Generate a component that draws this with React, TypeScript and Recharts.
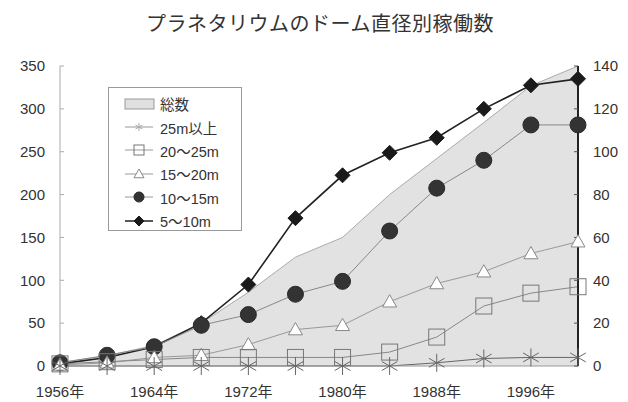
import { ComposedChart, Area, Line, XAxis, YAxis, Legend } from "recharts";

const years = [1956, 1960, 1964, 1968, 1972, 1976, 1980, 1984, 1988, 1992, 1996, 2000];
const xTicks = [1956, 1964, 1972, 1980, 1988, 1996];
const leftTicks = [0, 50, 100, 150, 200, 250, 300, 350];
const rightTicks = [0, 20, 40, 60, 80, 100, 120, 140];

// 総数 (left axis)
const total = [4, 12, 24, 50, 86, 127, 150, 200, 242, 284, 327, 350];
// by dome diameter (right axis)
const over25 = [0, 0, 0, 0, 0, 0, 0, 0, 1.5, 3.5, 4, 4];
const d20to25 = [1, 2, 3, 4, 4, 4, 4, 6.5, 13.5, 28, 34, 37];
const d15to20 = [0.5, 1.5, 4, 5, 10, 17, 19, 30, 38.5, 44, 52.5, 58];
const d10to15 = [1.5, 5, 9, 19, 24, 33.5, 39.5, 63, 83, 96, 112.5, 112.5];
const d5to10 = [1, 4, 9, 20, 38, 69, 89, 99.5, 106.5, 120, 131, 134];

const data = years.map((year, i) => ({
  year,
  total: total[i],
  over25: over25[i],
  d20to25: d20to25[i],
  d15to20: d15to20[i],
  d10to15: d10to15[i],
  d5to10: d5to10[i],
}));

const FONT = "'Liberation Sans', Arial, 'Noto Sans CJK JP', sans-serif";
const tickStyle = { fill: "#333", fontSize: 15, fontFamily: FONT };

const diamond = (cx: number, cy: number, r: number, key?: any) => (
  <path
    key={key}
    d={`M${cx},${cy - r}L${cx + r},${cy}L${cx},${cy + r}L${cx - r},${cy}Z`}
    fill="#1a1a1a"
    stroke="#1a1a1a"
  />
);
const circle = (cx: number, cy: number, r: number, key?: any) => (
  <circle key={key} cx={cx} cy={cy} r={r} fill="#333" stroke="#2a2a2a" />
);
const triangle = (cx: number, cy: number, r: number, key?: any) => (
  <path
    key={key}
    d={`M${cx},${cy - r}L${cx + r},${cy + r * 0.75}L${cx - r},${cy + r * 0.75}Z`}
    fill="#fff"
    stroke="#888"
  />
);
const square = (cx: number, cy: number, r: number, key?: any) => (
  <rect key={key} x={cx - r} y={cy - r} width={r * 2} height={r * 2} fill="none" stroke="#777" />
);
const star = (cx: number, cy: number, r: number, color: string, key?: any) => (
  <g key={key} stroke={color} strokeWidth={1}>
    <line x1={cx} y1={cy - r} x2={cx} y2={cy + r} />
    <line x1={cx - r * 0.87} y1={cy - r * 0.5} x2={cx + r * 0.87} y2={cy + r * 0.5} />
    <line x1={cx - r * 0.87} y1={cy + r * 0.5} x2={cx + r * 0.87} y2={cy - r * 0.5} />
  </g>
);

const dotOf = (fn: (cx: number, cy: number, key: any) => any) => (p: any) => {
  if (p.cx == null || p.cy == null) return <g key={p.key} />;
  return fn(p.cx, p.cy, p.key ?? `${p.dataKey}-${p.index}`);
};

const legendItems = [
  { label: "総数", kind: "area" },
  { label: "25m以上", kind: "star" },
  { label: "20〜25m", kind: "square" },
  { label: "15〜20m", kind: "triangle" },
  { label: "10〜15m", kind: "circle" },
  { label: "5〜10m", kind: "diamond" },
];

const LegendBox = () => (
  <div
    style={{
      width: 134,
      height: 144,
      border: "1px solid #999",
      background: "#fff",
      boxSizing: "border-box",
      paddingTop: 4,
      fontFamily: FONT,
    }}
  >
    {legendItems.map((it) => (
      <div key={it.label} style={{ display: "flex", alignItems: "center", height: 23.4 }}>
        <svg width={48} height={20} style={{ flex: "none" }}>
          {it.kind === "area" ? (
            <rect x={16} y={5} width={29} height={10} fill="#e0e0e0" stroke="#999" />
          ) : (
            <>
              <line
                x1={16}
                x2={44}
                y1={10}
                y2={10}
                stroke={it.kind === "diamond" ? "#222" : "#999"}
                strokeWidth={it.kind === "diamond" ? 1.5 : 1}
              />
              {it.kind === "star" && star(30, 10, 4, "#aaa")}
              {it.kind === "square" && square(30, 10, 5)}
              {it.kind === "triangle" && triangle(30, 10, 5)}
              {it.kind === "circle" && circle(30, 10, 5)}
              {it.kind === "diamond" && diamond(30, 10, 5)}
            </>
          )}
        </svg>
        <span style={{ fontSize: 14.5, color: "#333", marginLeft: 3 }}>{it.label}</span>
      </div>
    ))}
  </div>
);

export default function App() {
  return (
    <div style={{ position: "relative", width: 628, height: 402, background: "#fff" }}>
      <style>{"body{margin:0;background:#fff}"}</style>
      <div
        style={{
          position: "absolute",
          top: 8,
          left: 0,
          width: 640,
          textAlign: "center",
          fontSize: 20,
          color: "#333",
          fontFamily: "'Noto Sans CJK JP', sans-serif",
          letterSpacing: 0.5,
        }}
      >
        プラネタリウムのドーム直径別稼働数
      </div>
      <ComposedChart
        width={628}
        height={402}
        data={data}
        margin={{ top: 66, right: 0, bottom: 0, left: 0 }}
      >
        <XAxis
          dataKey="year"
          type="number"
          domain={[1956, 2000]}
          ticks={xTicks}
          tickFormatter={(v) => `${v}年`}
          tickLine={false}
          axisLine={{ stroke: "#999" }}
          tick={tickStyle}
          tickMargin={14}
          height={36}
          interval={0}
        />
        <YAxis
          yAxisId="left"
          domain={[0, 350]}
          ticks={leftTicks}
          width={60}
          tick={tickStyle}
          tickSize={-4}
          tickMargin={19}
          tickLine={{ stroke: "#aaa" }}
          axisLine={{ stroke: "#aaa" }}
          interval={0}
        />
        <YAxis
          yAxisId="right"
          orientation="right"
          domain={[0, 140]}
          ticks={rightTicks}
          width={50}
          tick={{ ...tickStyle, textAnchor: "start" }}
          tickSize={-4}
          tickMargin={19}
          tickLine={{ stroke: "#555" }}
          axisLine={{ stroke: "#222", strokeWidth: 2 }}
          interval={0}
        />
        <Legend
          layout="vertical"
          align="center"
          verticalAlign="middle"
          wrapperStyle={{ left: 108, top: 87, width: 134, height: 144 }}
          content={() => <LegendBox />}
        />
        <Area
          yAxisId="left"
          dataKey="total"
          type="linear"
          fill="#e2e2e2"
          fillOpacity={1}
          stroke="#aaa"
          strokeWidth={1}
          isAnimationActive={false}
        />
        <Line
          yAxisId="right"
          dataKey="d5to10"
          type="linear"
          stroke="#222"
          strokeWidth={1.6}
          dot={dotOf((x, y, k) => diamond(x, y, 7.5, k))}
          activeDot={false}
          isAnimationActive={false}
        />
        <Line
          yAxisId="right"
          dataKey="d10to15"
          type="linear"
          stroke="#888"
          strokeWidth={1}
          dot={dotOf((x, y, k) => circle(x, y, 8, k))}
          activeDot={false}
          isAnimationActive={false}
        />
        <Line
          yAxisId="right"
          dataKey="d15to20"
          type="linear"
          stroke="#999"
          strokeWidth={1}
          dot={dotOf((x, y, k) => triangle(x, y, 7, k))}
          activeDot={false}
          isAnimationActive={false}
        />
        <Line
          yAxisId="right"
          dataKey="d20to25"
          type="linear"
          stroke="#888"
          strokeWidth={1}
          dot={dotOf((x, y, k) => square(x, y, 8, k))}
          activeDot={false}
          isAnimationActive={false}
        />
        <Line
          yAxisId="right"
          dataKey="over25"
          type="linear"
          stroke="#666"
          strokeWidth={1}
          dot={dotOf((x, y, k) => star(x, y, 9, "#666", k))}
          activeDot={false}
          isAnimationActive={false}
        />
      </ComposedChart>
    </div>
  );
}
